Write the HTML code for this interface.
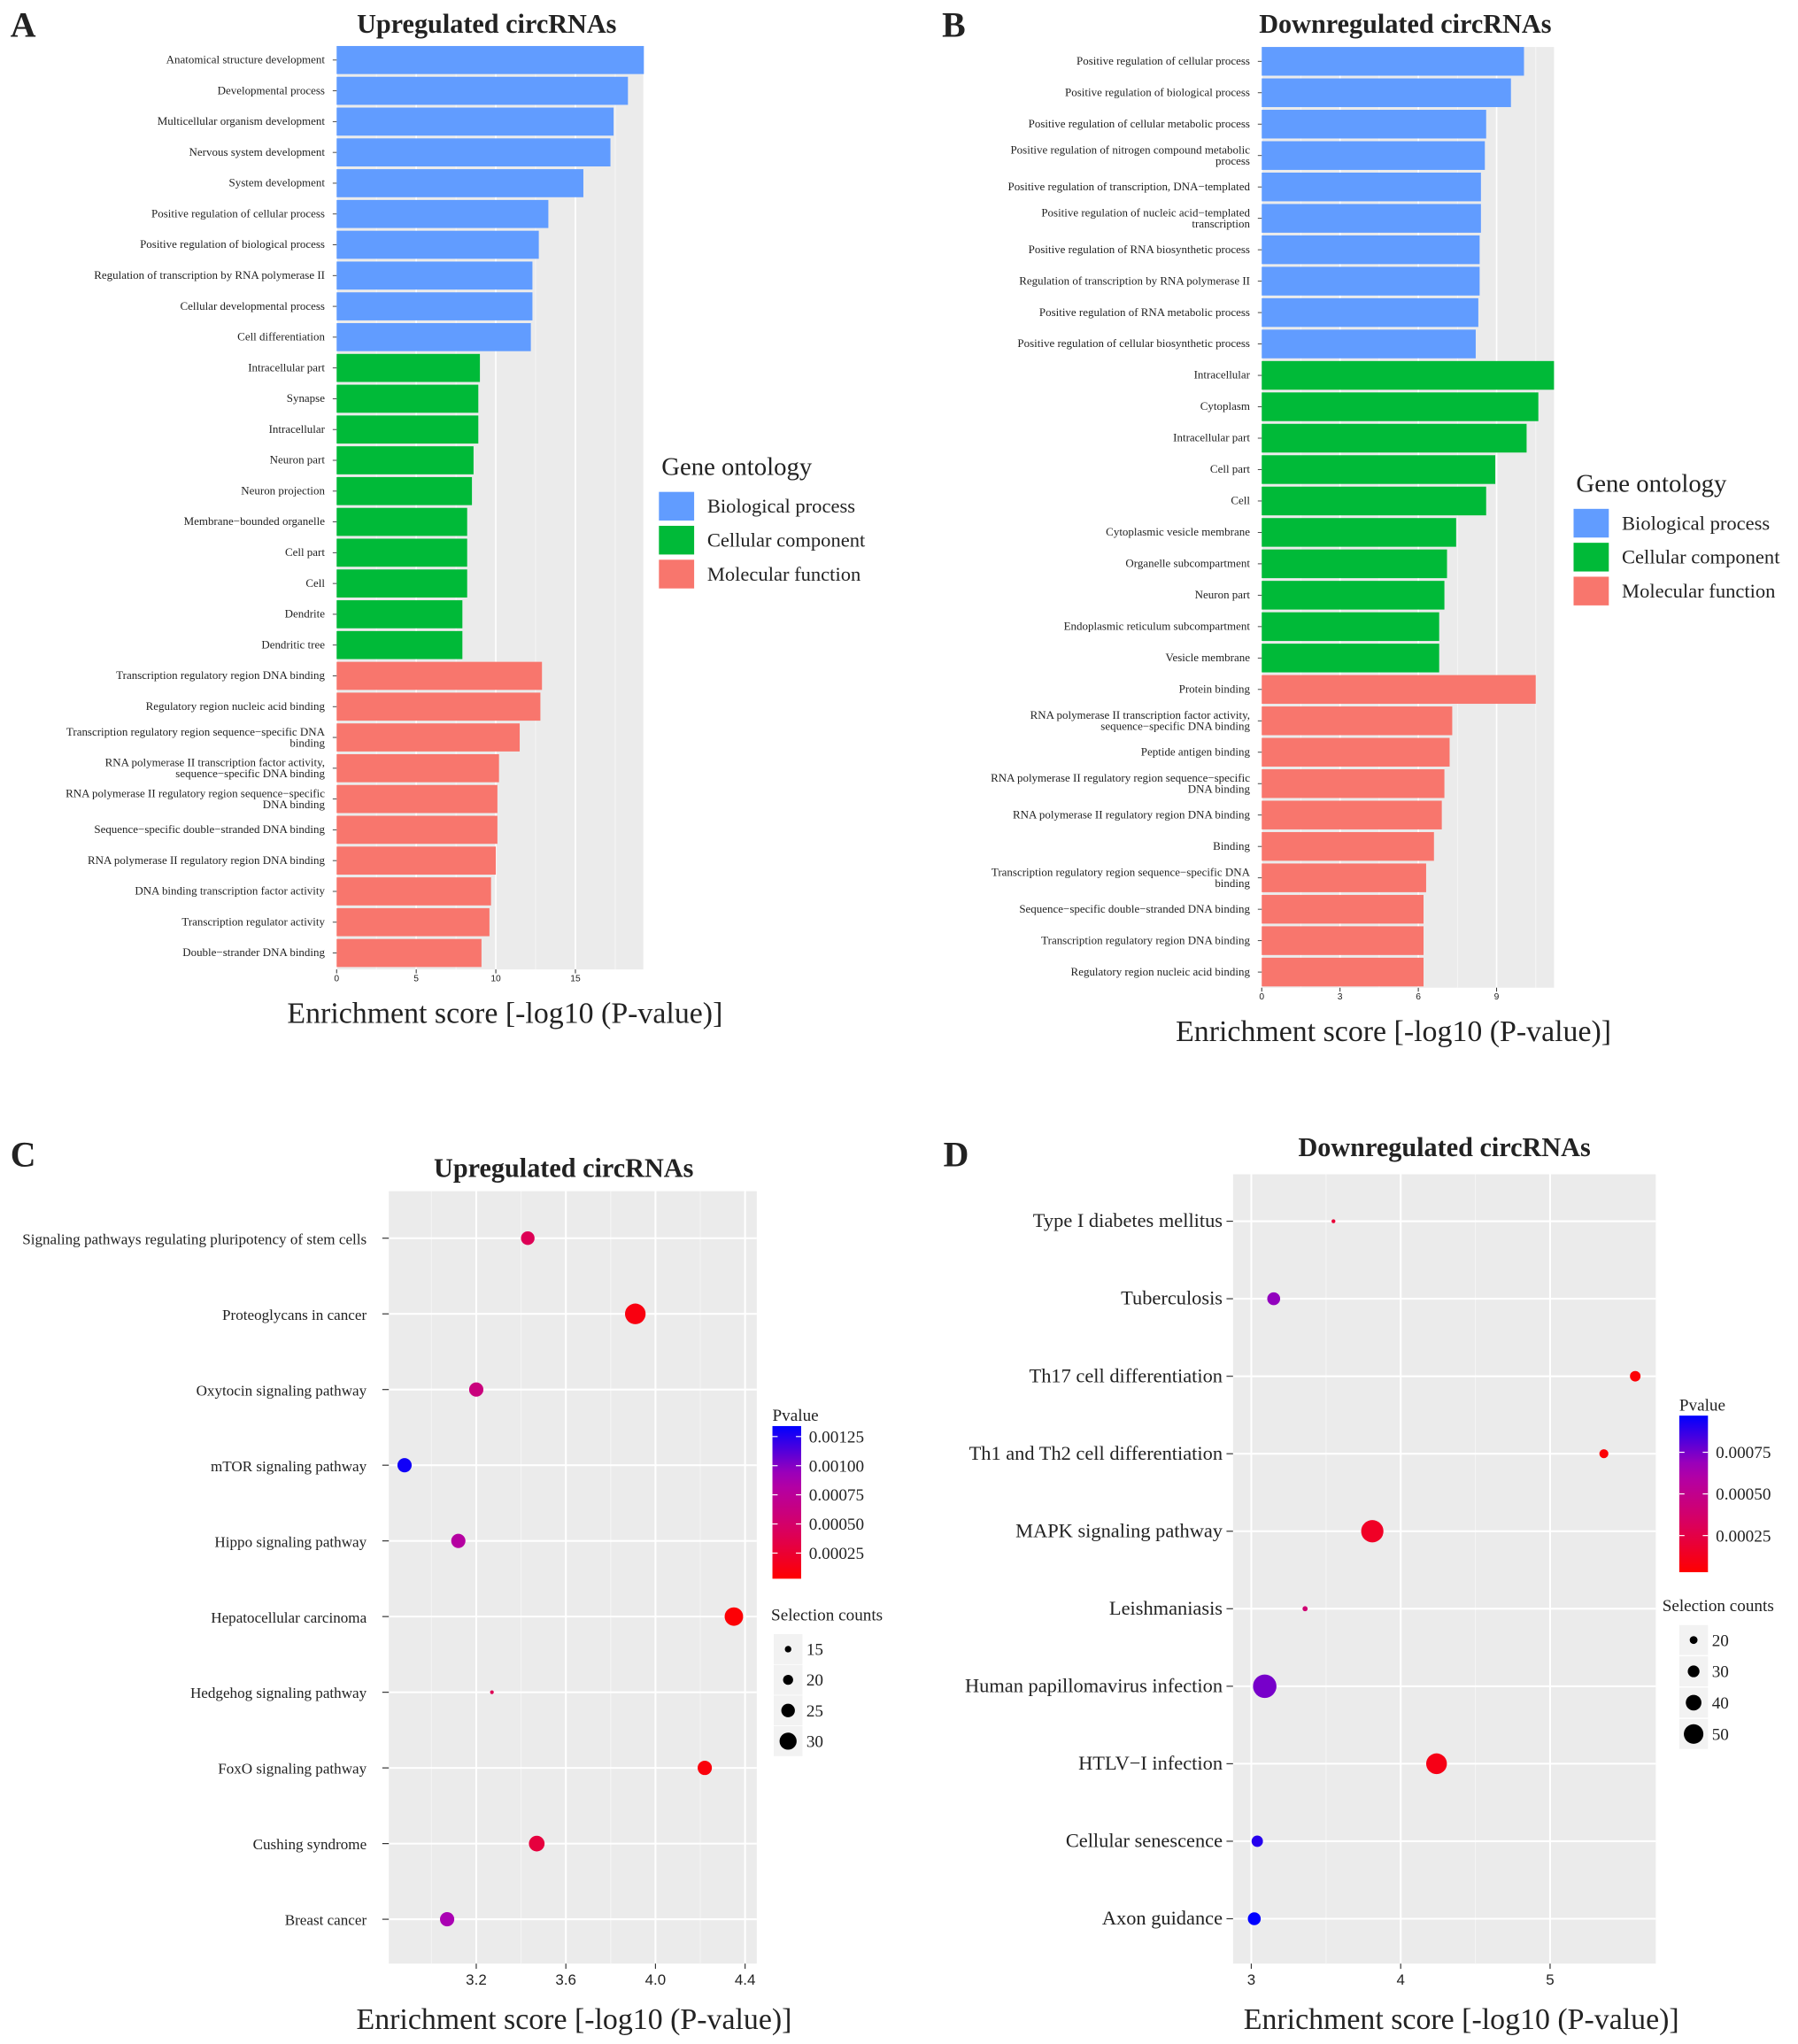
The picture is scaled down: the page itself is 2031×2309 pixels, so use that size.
<!DOCTYPE html>
<html><head><meta charset="utf-8"><style>
html,body{margin:0;padding:0;background:#fff}
svg{display:block}
text{font-family:"Liberation Serif",serif;fill:#222}
.sans{font-family:"Liberation Sans",sans-serif}
</style></head><body>
<svg id="fig" width="2031" height="2309" viewBox="0 0 1378 1566.6" xmlns="http://www.w3.org/2000/svg"></svg>
<script>
// ---------- Panel A data ----------
const aLabels = ["Anatomical structure development","Developmental process","Multicellular organism development","Nervous system development","System development","Positive regulation of cellular process","Positive regulation of biological process","Regulation of transcription by RNA polymerase II","Cellular developmental process","Cell differentiation",
"Intracellular part","Synapse","Intracellular","Neuron part","Neuron projection","Membrane−bounded organelle","Cell part","Cell","Dendrite","Dendritic tree",
"Transcription regulatory region DNA binding","Regulatory region nucleic acid binding","Transcription regulatory region sequence−specific DNA|binding","RNA polymerase II transcription factor activity,|sequence−specific DNA binding","RNA polymerase II regulatory region sequence−specific|DNA binding","Sequence−specific double−stranded DNA binding","RNA polymerase II regulatory region DNA binding","DNA binding transcription factor activity","Transcription regulator activity","Double−strander DNA binding"];
const aValues = [19.3,18.3,17.4,17.2,15.5,13.3,12.7,12.3,12.3,12.2, 9.0,8.9,8.9,8.6,8.5,8.2,8.2,8.2,7.9,7.9, 12.9,12.8,11.5,10.2,10.1,10.1,10.0,9.7,9.6,9.1];
const aTicks = [0,5,10,15];
// ---------- Panel B data ----------
const bLabels = ["Positive regulation of cellular process","Positive regulation of biological process","Positive regulation of cellular metabolic process","Positive regulation of nitrogen compound metabolic|process","Positive regulation of transcription, DNA−templated","Positive regulation of nucleic acid−templated|transcription","Positive regulation of RNA biosynthetic process","Regulation of transcription by RNA polymerase II","Positive regulation of RNA metabolic process","Positive regulation of cellular biosynthetic process",
"Intracellular","Cytoplasm","Intracellular part","Cell part","Cell","Cytoplasmic vesicle membrane","Organelle subcompartment","Neuron part","Endoplasmic reticulum subcompartment","Vesicle membrane",
"Protein binding","RNA polymerase II transcription factor activity,|sequence−specific DNA binding","Peptide antigen binding","RNA polymerase II regulatory region sequence−specific|DNA binding","RNA polymerase II regulatory region DNA binding","Binding","Transcription regulatory region sequence−specific DNA|binding","Sequence−specific double−stranded DNA binding","Transcription regulatory region DNA binding","Regulatory region nucleic acid binding"];
const bValues = [10.05,9.55,8.6,8.55,8.4,8.4,8.35,8.35,8.3,8.2, 11.2,10.6,10.15,8.95,8.6,7.45,7.1,7.0,6.8,6.8, 10.5,7.3,7.2,7.0,6.9,6.6,6.3,6.2,6.2,6.2];
const bTicks = [0,3,6,9];
const goCats = ["Biological process","Cellular component","Molecular function"];
const goColors = ["#619cff","#00ba38","#f8766d"];
// ---------- Panel C data ----------
const cLabels = ["Signaling pathways regulating pluripotency of stem cells","Proteoglycans in cancer","Oxytocin signaling pathway","mTOR signaling pathway","Hippo signaling pathway","Hepatocellular carcinoma","Hedgehog signaling pathway","FoxO signaling pathway","Cushing syndrome","Breast cancer"];
const cScores = [3.43,3.91,3.20,2.88,3.12,4.35,3.27,4.22,3.47,3.07];
const cCounts = [25,35,26,26,26,32,11,26,28,26];
const cPvals = [0.0004,0.0001,0.0006,0.0013,0.0008,0.00005,0.0004,0.00008,0.0003,0.0009];
const cTicks = [3.2,3.6,4.0,4.4];
const cPTicks = [0.00125,0.00100,0.00075,0.00050,0.00025];
const cSizeKeys = [15,20,25,30];
// ---------- Panel D data ----------
const dLabels = ["Type I diabetes mellitus","Tuberculosis","Th17 cell differentiation","Th1 and Th2 cell differentiation","MAPK signaling pathway","Leishmaniasis","Human papillomavirus infection","HTLV−I infection","Cellular senescence","Axon guidance"];
const dScores = [3.55,3.15,5.57,5.36,3.81,3.36,3.09,4.24,3.04,3.02];
const dCounts = [10,33,27,23,57,13,60,53,29,33];
const dPvals = [0.0002,0.0007,0.00005,0.00005,0.00015,0.0004,0.00075,0.0001,0.0009,0.00097];
const dTicks = [3,4,5];
const dPTicks = [0.00075,0.00050,0.00025];
const dSizeKeys = [20,30,40,50];

const NS="http://www.w3.org/2000/svg";
const svg=document.getElementById('fig');
function mk(tag,attrs,parent,txt){const e=document.createElementNS(NS,tag);for(const k in attrs)e.setAttribute(k,attrs[k]);if(txt!==undefined)e.textContent=txt;(parent||svg).appendChild(e);return e;}
function grp(name){const g=mk('g',{});


return g;}

function pcolor(p,pmin,pmax){
  let t=Math.max(0,Math.min(1,(p-pmin)/(pmax-pmin)));
  const stops=[[255,0,0],[215,0,100],[170,0,180],[0,0,255]];
  const s=t*3,i=Math.min(2,Math.floor(s)),f=s-i;
  const c=stops[i].map((v,k)=>Math.round(v+(stops[i+1][k]-v)*f));
  return `rgb(${c[0]},${c[1]},${c[2]})`;
}

function barPanel(o){
  const g=grp(o.name);
  const x=v=>o.x0+(v-o.vmin)*o.k;
  mk('rect',{x:o.x0,y:o.top,width:o.x1-o.x0,height:o.bot-o.top,fill:'#ebebeb'},g);
  for(let i=0;i<o.ticks.length;i++){
    const t=o.ticks[i];
    mk('line',{x1:x(t),x2:x(t),y1:o.top,y2:o.bot,stroke:'#fff','stroke-width':1.1},g);
    const m=t+o.step/2; if(x(m)<o.x1) mk('line',{x1:x(m),x2:x(m),y1:o.top,y2:o.bot,stroke:'#f7f7f7','stroke-width':0.6},g);
    mk('line',{x1:x(t),x2:x(t),y1:o.bot,y2:o.bot+3,stroke:'#333','stroke-width':0.7},g);
    const tl=mk('text',{x:x(t),y:o.bot+9,'font-size':7,'text-anchor':'middle',class:'sans'},g,String(t));
    
    
  }
  const n=o.labels.length;
  for(let i=0;i<n;i++){
    const cy=o.first+i*o.rs;
    const r=mk('rect',{x:x(0),y:cy-o.bh/2,width:x(o.values[i])-x(0),height:o.bh,fill:goColors[Math.floor(i/10)]},g);
    
    
    const parts=o.labels[i].split('|');
    const lt=mk('text',{x:o.lx,y:cy+(parts.length>1?-1.5:2.5),'font-size':8.8,'text-anchor':'end'},g);
    
    
    parts.forEach((p,j)=>mk('tspan',{x:o.lx,dy:j?8.5:0},lt,p));
    mk('line',{x1:x(0)-3,x2:x(0),y1:cy,y2:cy,stroke:'#333','stroke-width':0.6},g);
  }
  const tt=mk('text',{x:o.tcx,y:25,'font-size':20.5,'font-weight':'bold','text-anchor':'middle'},g,o.title);
  
  
  const pl=mk('text',{x:o.plx,y:28,'font-size':27,'font-weight':'bold'},g,o.letter);
  
  
  const at=mk('text',{x:o.acx,y:o.ay,'font-size':23,'text-anchor':'middle'},g,'Enrichment score [-log10 (P-value)]');
  
  
  const lg=mk('text',{x:o.lgx+2,y:o.lgy,'font-size':19.5},g,'Gene ontology');
  
  
  for(let j=0;j<3;j++){
    const by=o.lgy+13+j*26;
    const b=mk('rect',{x:o.lgx,y:by,width:27,height:22,fill:goColors[j]},g);
    
    
    const l=mk('text',{x:o.lgx+37,y:by+16,'font-size':15.3},g,goCats[j]);
    
    
  }
}

barPanel({name:'panel-a',labels:aLabels,values:aValues,ticks:aTicks,step:5,vmin:0,x0:258,x1:493,k:12.2,top:36,bot:743,first:46,rs:23.6,bh:21.5,lx:249,title:'Upregulated circRNAs',tcx:373,letter:'A',plx:8,acx:387,ay:784,lgx:505,lgy:364});
barPanel({name:'panel-b',labels:bLabels,values:bValues,ticks:bTicks,step:3,vmin:0,x0:967,x1:1191,k:20,top:36,bot:757,first:47,rs:24.07,bh:22,lx:958,title:'Downregulated circRNAs',tcx:1077,letter:'B',plx:722,acx:1068,ay:798,lgx:1206,lgy:377});

function dotPanel(o){
  const g=grp(o.name);
  const x=v=>o.x0+(v-o.t0)*o.k;
  mk('rect',{x:o.px0,y:o.top,width:o.px1-o.px0,height:o.bot-o.top,fill:'#ebebeb'},g);
  o.ticks.forEach((t,i)=>{
    mk('line',{x1:x(t),x2:x(t),y1:o.top,y2:o.bot,stroke:'#fff','stroke-width':1.4},g);
    if(i<o.ticks.length-1){const m=(t+o.ticks[i+1])/2;mk('line',{x1:x(m),x2:x(m),y1:o.top,y2:o.bot,stroke:'#f4f4f4','stroke-width':0.7},g);}
    const m0=t-(o.ticks[1]-o.ticks[0])/2; if(x(m0)>o.px0) mk('line',{x1:x(m0),x2:x(m0),y1:o.top,y2:o.bot,stroke:'#f4f4f4','stroke-width':0.7},g);
    mk('line',{x1:x(t),x2:x(t),y1:o.bot,y2:o.bot+4,stroke:'#333','stroke-width':0.8},g);
    const tl=mk('text',{x:x(t),y:o.bot+16,'font-size':11.5,'text-anchor':'middle',class:'sans'},g,String(o.tfmt(t)));
    
    
  });
  const n=o.labels.length;
  for(let i=0;i<n;i++){
    const cy=o.first+i*o.rs;
    mk('line',{x1:o.px0,x2:o.px1,y1:cy,y2:cy,stroke:'#fff','stroke-width':1.4},g);
    mk('line',{x1:o.px0-5,x2:o.px0,y1:cy,y2:cy,stroke:'#333','stroke-width':0.8},g);
    const lt=mk('text',{x:o.px0-o.lgap,y:cy+4.5,'font-size':o.fs,'text-anchor':'end'},g,o.labels[i]);
    
    
  }
  for(let i=0;i<n;i++){
    const cy=o.first+i*o.rs;
    const c=mk('circle',{cx:x(o.scores[i]),cy:cy,r:o.rad(o.counts[i]),fill:pcolor(o.pvals[i],o.pmin,o.pmax)},g);
    
    
  }
  const tt=mk('text',{x:o.tcx,y:o.ty,'font-size':20.5,'font-weight':'bold','text-anchor':'middle'},g,o.title);
  
  
  const pl=mk('text',{x:o.plx,y:894,'font-size':27,'font-weight':'bold'},g,o.letter);
  
  
  const at=mk('text',{x:o.acx,y:1555,'font-size':23,'text-anchor':'middle'},g,'Enrichment score [-log10 (P-value)]');
  
  
  const defs=mk('defs',{},g);
  const gr=mk('linearGradient',{id:o.name+'-grad',x1:0,y1:1,x2:0,y2:0},defs);
  for(let s=0;s<=10;s++){mk('stop',{offset:s/10,'stop-color':pcolor(o.pmin+(o.pmax-o.pmin)*s/10,o.pmin,o.pmax)},gr);}
  const pt=mk('text',{x:o.cbx,y:o.cby-4,'font-size':13},g,'Pvalue');
  
  
  const cb=mk('rect',{x:o.cbx,y:o.cby,width:22,height:o.cbh,fill:`url(#${o.name}-grad)`},g);
  
  
  const py=p=>o.cby+o.cbh-(p-o.pmin)/(o.pmax-o.pmin)*o.cbh;
  o.pticks.forEach(p=>{
    mk('line',{x1:o.cbx,x2:o.cbx+4,y1:py(p),y2:py(p),stroke:'#fff','stroke-width':0.8},g);
    mk('line',{x1:o.cbx+18,x2:o.cbx+22,y1:py(p),y2:py(p),stroke:'#fff','stroke-width':0.8},g);
    const l=mk('text',{x:o.cbx+28,y:py(p)+4.5,'font-size':13},g,p.toFixed(5));
    
    
  });
  const st=mk('text',{x:o.skx,y:o.sky,'font-size':13},g,'Selection counts');
  
  
  o.sizeKeys.forEach((s,j)=>{
    const cy=o.sky+22+j*o.sks;
    mk('rect',{x:o.skcx-11,y:cy-11.5,width:22,height:23,fill:'#f2f2f2'},g);
    const c=mk('circle',{cx:o.skcx,cy:cy,r:o.krad(s),fill:'#000'},g);
    
    
    const l=mk('text',{x:o.skcx+14,y:cy+4.5,'font-size':13},g,String(s));
    
    
  });
}

dotPanel({name:'panel-c',labels:cLabels,scores:cScores,counts:cCounts,pvals:cPvals,ticks:cTicks,tfmt:t=>t.toFixed(1),
  x0:365,t0:3.2,k:171.7,px0:298,px1:580,top:913,bot:1505,first:949,rs:58,fs:11.6,lgap:17,
  rad:c=>Math.max(1.2,2.5+(c-15)*0.27),krad:c=>2.5+(c-15)*0.27,pmin:0.00003,pmax:0.00134,pticks:cPTicks,
  cbx:592,cby:1093,cbh:117,skx:591,sky:1242,skcx:604,sks:23.5,sizeKeys:cSizeKeys,
  title:'Upregulated circRNAs',tcx:432,ty:902,letter:'C',plx:8,acx:440});
dotPanel({name:'panel-d',labels:dLabels,scores:dScores,counts:dCounts,pvals:dPvals,ticks:dTicks,tfmt:t=>String(t),
  x0:959,t0:3,k:114.5,px0:945,px1:1269,top:900,bot:1505,first:936,rs:59.4,fs:15.2,lgap:8,
  rad:c=>Math.max(1.2,3+(c-20)*0.15),krad:c=>3+(c-20)*0.15,pmin:0.00003,pmax:0.00097,pticks:dPTicks,
  cbx:1287,cby:1085,cbh:120,skx:1274,sky:1235,skcx:1298,sks:24,sizeKeys:dSizeKeys,
  title:'Downregulated circRNAs',tcx:1107,ty:886,letter:'D',plx:723,acx:1120});
</script>
</body></html>
